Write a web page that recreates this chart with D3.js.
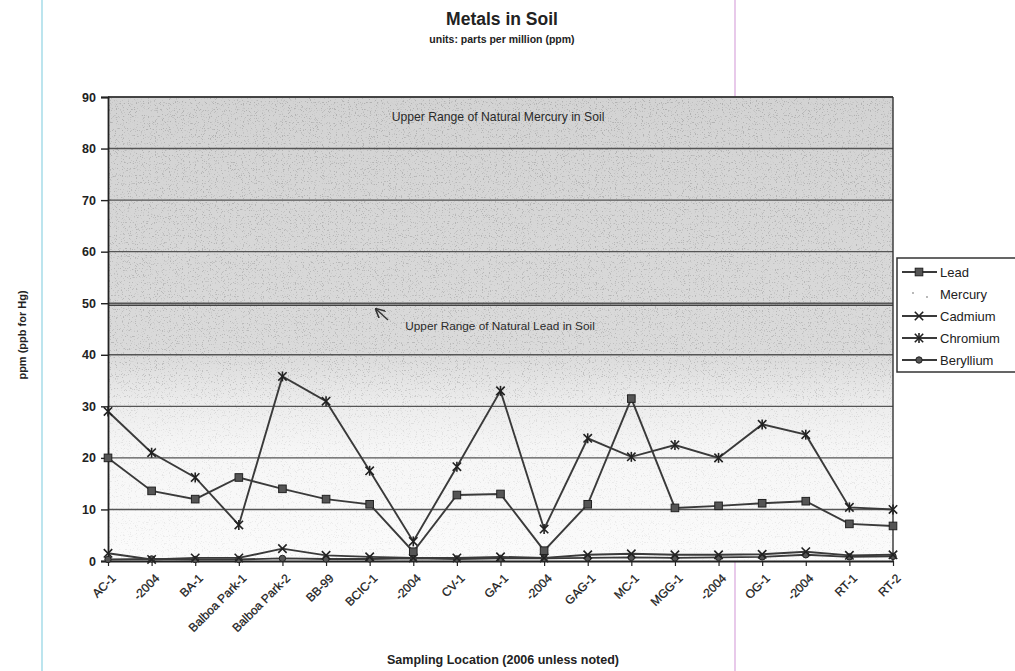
<!DOCTYPE html>
<html><head><meta charset="utf-8">
<script src="https://cdn.jsdelivr.net/npm/d3@7"></script>
<style>
body{margin:0;background:#fff;}
svg{display:block;font-family:"Liberation Sans",Arial,Helvetica,sans-serif;}
</style>
</head><body>
<svg id="c" width="1015" height="671"></svg>
<script>
// ---------- data ----------
const categories = ["AC-1","-2004","BA-1","Balboa Park-1","Balboa Park-2","BB-99","BCIC-1","-2004","CV-1","GA-1","-2004","GAG-1","MC-1","MGG-1","-2004","OG-1","-2004","RT-1","RT-2"];
const lead      = [20, 13.6, 12, 16.2, 14, 12, 11, 1.8, 12.8, 13, 2, 11, 31.5, 10.3, 10.7, 11.2, 11.6, 7.2, 6.8];
const cadmium   = [1.5, 0.3, 0.6, 0.6, 2.4, 1.1, 0.8, 0.6, 0.6, 0.8, 0.6, 1.2, 1.4, 1.2, 1.2, 1.3, 1.8, 1.1, 1.2];
const chromium  = [29, 21, 16.2, 7, 35.8, 31, 17.5, 3.8, 18.3, 33, 6.2, 23.8, 20.2, 22.5, 20, 26.5, 24.5, 10.4, 10];
const beryllium = [0.3, 0.4, 0.3, 0.3, 0.5, 0.4, 0.4, 0.5, 0.4, 0.5, 0.5, 0.6, 0.7, 0.6, 0.7, 0.8, 1.2, 0.8, 0.9];
const seriesNames = ["Lead","Mercury","Cadmium","Chromium","Beryllium"];
const yTicks = [0,10,20,30,40,50,60,70,80,90];
const leadUpperRange = 49.6;
const mercuryUpperRange = 90;

// ---------- setup ----------
const svg = d3.select("#c");
const m = {left:108, right:893, top:97, bottom:561};
const x = d3.scalePoint().domain(d3.range(categories.length)).range([m.left, m.right]);
const y = d3.scaleLinear().domain([0,90]).range([m.bottom, m.top]);
const ink = "#3a3a3a";

const defs = svg.append("defs");
const grad = defs.append("linearGradient").attr("id","bg").attr("x1",0).attr("y1",0).attr("x2",0).attr("y2",1);
[[0,"#d3d3d3"],[0.55,"#dadada"],[0.66,"#ececec"],[0.76,"#f6f6f6"],[1,"#fbfbfb"]].forEach(([o,c])=>grad.append("stop").attr("offset",o).attr("stop-color",c));
const f = defs.append("filter").attr("id","noise").attr("x",0).attr("y",0).attr("width",1).attr("height",1);
f.append("feTurbulence").attr("type","fractalNoise").attr("baseFrequency",0.85).attr("numOctaves",1).attr("seed",7).attr("result","t");
f.append("feColorMatrix").attr("in","t").attr("type","matrix").attr("values","0 0 0 0 0.25  0 0 0 0 0.25  0 0 0 0 0.25  9 0 0 0 -5.3").attr("result","n");
f.append("feComposite").attr("in","n").attr("in2","SourceGraphic").attr("operator","in");
const mg = defs.append("linearGradient").attr("id","mgrad").attr("x1",0).attr("y1",0).attr("x2",0).attr("y2",1);
[[0,"#fff"],[0.6,"#ddd"],[0.7,"#666"],[1,"#444"]].forEach(([o,c])=>mg.append("stop").attr("offset",o).attr("stop-color",c));
const mask = defs.append("mask").attr("id","nmask");
mask.append("rect").attr("x",m.left).attr("y",m.top).attr("width",m.right-m.left).attr("height",m.bottom-m.top).attr("fill","url(#mgrad)");
defs.append("marker").attr("id","arrow").attr("viewBox","0 0 10 10").attr("refX",9).attr("refY",5)
  .attr("markerWidth",7).attr("markerHeight",7).attr("orient","auto-start-reverse")
  .append("path").attr("d","M0,0 L10,5 L0,10").attr("fill","none").attr("stroke","#333").attr("stroke-width",1.6);

// scan artifact lines
svg.append("line").attr("x1",42).attr("x2",42).attr("y1",0).attr("y2",671).attr("stroke","#8fd3e3").attr("stroke-width",1.2);
svg.append("line").attr("x1",735).attr("x2",735).attr("y1",0).attr("y2",671).attr("stroke","#d9a6dc").attr("stroke-width",1.2);

// plot background
svg.append("rect").attr("x",m.left).attr("y",m.top).attr("width",m.right-m.left).attr("height",m.bottom-m.top).attr("fill","url(#bg)");
svg.append("rect").attr("x",m.left).attr("y",m.top).attr("width",m.right-m.left).attr("height",m.bottom-m.top)
  .attr("fill","#000").attr("filter","url(#noise)").attr("mask","url(#nmask)").attr("opacity",0.45);

// gridlines
svg.append("g").selectAll("line").data(yTicks.filter(d=>d>0)).join("line")
  .attr("x1",m.left).attr("x2",m.right).attr("y1",d=>y(d)).attr("y2",d=>y(d))
  .attr("stroke","#555").attr("stroke-width",1.4);
svg.append("line").attr("x1",m.left).attr("x2",m.right).attr("y1",y(leadUpperRange)).attr("y2",y(leadUpperRange))
  .attr("stroke","#444").attr("stroke-width",1.6);
svg.append("line").attr("x1",m.left).attr("x2",m.right).attr("y1",y(mercuryUpperRange)).attr("y2",y(mercuryUpperRange))
  .attr("stroke","#333").attr("stroke-width",1.6);
svg.append("line").attr("x1",m.right).attr("x2",m.right).attr("y1",m.top).attr("y2",m.bottom).attr("stroke","#333").attr("stroke-width",1.4);

// axes
const yAxis = svg.append("g").attr("transform",`translate(${m.left},0)`)
  .call(d3.axisLeft(y).tickValues(yTicks).tickSize(7).tickPadding(5));
yAxis.select(".domain").attr("stroke","#222").attr("stroke-width",1.8);
yAxis.selectAll(".tick line").attr("stroke","#222").attr("stroke-width",1.4);
yAxis.selectAll("text").attr("font-size",12.5).attr("font-weight","bold").attr("fill","#222")
  .attr("font-family","'Liberation Sans',Arial,sans-serif");

const xAxis = svg.append("g").attr("transform",`translate(0,${m.bottom})`)
  .call(d3.axisBottom(x).tickFormat(i=>categories[i]).tickSize(5).tickSizeOuter(0));
xAxis.select(".domain").attr("stroke","#222").attr("stroke-width",1.8);
xAxis.selectAll(".tick line").attr("stroke","#222").attr("stroke-width",1.2);
xAxis.selectAll("text").attr("font-size",12).attr("fill","#1a1a1a").attr("text-anchor","end")
  .attr("font-family","'Liberation Sans',Arial,sans-serif")
  .attr("stroke","#1a1a1a").attr("stroke-width",0.25)
  .attr("dy",0).attr("y",0)
  .attr("transform","translate(8,18) rotate(-45)");

// lines
const line = d3.line().x((d,i)=>x(i)).y(d=>y(d));
const series = [
  {name:"Lead", values:lead, marker:"square"},
  {name:"Cadmium", values:cadmium, marker:"x"},
  {name:"Chromium", values:chromium, marker:"star"},
  {name:"Beryllium", values:beryllium, marker:"circle"}
];
function drawMarker(g, type, cx, cy){
  if(type==="square") g.append("rect").attr("x",cx-3.8).attr("y",cy-3.8).attr("width",7.6).attr("height",7.6).attr("fill","#555").attr("stroke","#222").attr("stroke-width",1);
  else if(type==="circle") g.append("circle").attr("cx",cx).attr("cy",cy).attr("r",3.2).attr("fill","#555").attr("stroke","#222").attr("stroke-width",1);
  else {
    const s=4.2;
    g.append("path").attr("d",`M${cx-s},${cy-s}L${cx+s},${cy+s}M${cx-s},${cy+s}L${cx+s},${cy-s}`).attr("stroke","#222").attr("stroke-width",1.6);
    if(type==="star") g.append("path").attr("d",`M${cx},${cy-s-0.8}L${cx},${cy+s+0.8}`).attr("stroke","#222").attr("stroke-width",1.6);
  }
}
[...series].reverse().forEach(s=>{
  const g = svg.append("g");
  g.append("path").datum(s.values).attr("d",line).attr("fill","none").attr("stroke",ink).attr("stroke-width",1.9);
  s.values.forEach((v,i)=>drawMarker(g, s.marker, x(i), y(v)));
});

// annotations
svg.append("text").attr("x",498).attr("y",121).attr("text-anchor","middle").attr("font-size",12.2).attr("fill","#2a2a2a")
  .text("Upper Range of Natural Mercury in Soil");
svg.append("text").attr("x",500).attr("y",330).attr("text-anchor","middle").attr("font-size",11.8).attr("fill","#2a2a2a")
  .text("Upper Range of Natural Lead in Soil");
svg.append("line").attr("x1",388).attr("y1",320).attr("x2",376).attr("y2",309).attr("stroke","#333").attr("stroke-width",1.4).attr("marker-end","url(#arrow)");

// titles
svg.append("text").attr("x",502).attr("y",25).attr("text-anchor","middle").attr("font-size",17.5).attr("font-weight","bold").attr("fill","#222").text("Metals in Soil");
svg.append("text").attr("x",502).attr("y",43).attr("text-anchor","middle").attr("font-size",10.5).attr("font-weight","bold").attr("fill","#222").text("units: parts per million (ppm)");
svg.append("text").attr("transform","translate(26,335) rotate(-90)").attr("text-anchor","middle").attr("font-size",11).attr("font-weight","bold").attr("fill","#222").text("ppm (ppb for Hg)");
svg.append("text").attr("x",503).attr("y",664).attr("text-anchor","middle").attr("font-size",12.5).attr("font-weight","bold").attr("fill","#222").text("Sampling Location (2006 unless noted)");

// legend
const lg = svg.append("g");
lg.append("rect").attr("x",897).attr("y",258).attr("width",140).attr("height",114).attr("fill","#fff").attr("stroke","#333").attr("stroke-width",1.5);
const markerFor = {Lead:"square",Cadmium:"x",Chromium:"star",Beryllium:"circle"};
seriesNames.forEach((n,i)=>{
  const cy = 272 + i*22;
  const row = lg.append("g");
  if(n==="Mercury"){
    row.append("circle").attr("cx",913).attr("cy",cy-1).attr("r",0.9).attr("fill","#999");
    row.append("circle").attr("cx",927).attr("cy",cy+3).attr("r",0.9).attr("fill","#999");
  } else {
    row.append("line").attr("x1",902).attr("x2",937).attr("y1",cy).attr("y2",cy).attr("stroke",ink).attr("stroke-width",1.9);
    drawMarker(row, markerFor[n], 919, cy);
  }
  row.append("text").attr("x",940).attr("y",cy+4.5).attr("font-size",13).attr("fill","#222").text(n);
});
</script>
</body></html>
